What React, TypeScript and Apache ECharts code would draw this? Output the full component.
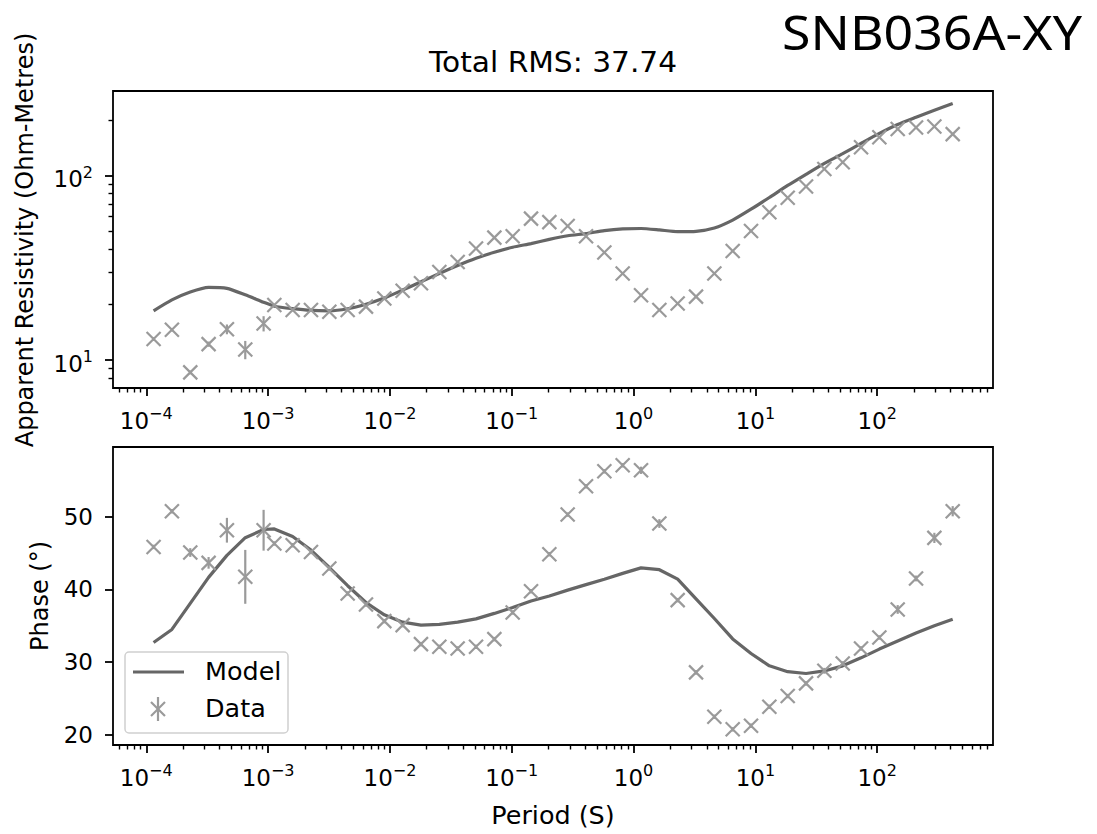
import React, { useEffect, useRef } from "react";
import * as echarts from "echarts";

// Periods (s)
const periods = [
  1.148e-4, 1.623e-4, 2.296e-4, 3.247e-4, 4.592e-4, 6.494e-4, 9.184e-4,
  1.125e-3, 1.59e-3, 2.249e-3, 3.181e-3, 4.498e-3, 6.362e-3, 8.997e-3,
  1.272e-2, 1.799e-2, 2.545e-2, 3.599e-2, 5.09e-2, 7.198e-2,
  0.1018, 0.144, 0.2036, 0.2879, 0.4072, 0.5758, 0.8144,
  1.152, 1.629, 2.303, 3.257, 4.607, 6.515, 9.213,
  13.03, 18.43, 26.06, 36.85, 52.12, 73.7,
  104.2, 147.4, 208.5, 294.8, 416.9,
];

// Apparent resistivity data (Ohm-m) and errors
const rhoData = [
  13.0, 14.6, 8.57, 12.2, 14.7, 11.4, 15.8, 19.9, 18.7, 18.7, 18.3, 18.7, 19.5,
  21.6, 23.8, 26.1, 30.1, 34.1, 40.3, 46.2, 47.0, 58.6, 56.1, 53.5, 47.0, 38.4,
  29.5, 22.5, 18.7, 20.3, 22.1, 29.5, 39.1, 50.2, 63.5, 76.0, 87.5, 109, 118.5,
  143, 162, 179.6, 183, 185.5, 168.5,
];
const rhoErr = [
  0.3, 0.3, 0.2, 0.4, 0.9, 1.3, 1.5, 0.3, 0.3, 0.3, 0.3, 0.3, 0.3,
  0.3, 0.3, 0.3, 0.4, 0.4, 0.5, 0.5, 0.5, 0.6, 0.6, 0.6, 0.5, 0.4,
  0.3, 0.3, 0.2, 0.3, 0.3, 0.4, 0.5, 0.6, 0.8, 0.9, 1.0, 1.2, 1.3,
  1.5, 1.8, 2.0, 2.2, 2.5, 2.5,
];
// Model resistivity (Ohm-m)
const rhoModel = [
  18.5, 21.2, 23.4, 24.8, 24.5, 22.6, 20.6, 19.6, 19.0, 18.6, 18.5, 19.0, 20.1,
  21.7, 24.0, 26.6, 29.5, 32.6, 35.7, 38.5, 41.0, 42.9, 45.2, 47.3, 48.6, 50.4,
  51.5, 51.8, 50.9, 49.8, 50.0, 52.1, 57.5, 65.9, 76.3, 88.7, 102, 117, 132,
  150, 170, 190, 208, 227, 247,
];

// Phase data (degrees) and errors
const phaseData = [
  45.83, 50.73, 45.06, 43.64, 48.12, 41.72, 48.12, 46.3, 46.06, 45.14, 42.87,
  39.44, 37.93, 35.64, 35.09, 32.48, 32.11, 31.89, 32.11, 33.17, 36.83, 39.75,
  44.83, 50.27, 54.16, 56.21, 57.04, 56.35, 49.04, 38.52, 28.6, 22.51, 20.78,
  21.28, 23.88, 25.35, 27.09, 28.82, 29.83, 31.89, 33.4, 37.24, 41.5, 47.07, 50.73,
];
const phaseErr = [
  0.3, 0.3, 0.6, 0.8, 1.7, 3.7, 2.8, 0.3, 0.3, 0.3, 0.3,
  0.3, 0.3, 0.3, 0.3, 0.3, 0.3, 0.3, 0.3, 0.3, 0.3, 0.3,
  0.3, 0.3, 0.3, 0.3, 0.3, 0.5, 0.6, 0.3, 0.3, 0.3, 0.3,
  0.3, 0.3, 0.3, 0.3, 0.4, 0.3, 0.3, 0.3, 0.6, 0.4, 0.7, 0.7,
];
// Model phase (degrees)
const phaseModel = [
  32.7, 34.5, 38.07, 41.65, 44.67, 47.1, 48.22, 48.3, 47.25, 45.4, 43.0,
  40.5, 38.2, 36.5, 35.5, 35.1, 35.2, 35.5, 35.95, 36.7, 37.5, 38.4,
  39.1, 39.9, 40.65, 41.4, 42.2, 42.95, 42.7, 41.4, 38.7, 36.0, 33.2,
  31.2, 29.5, 28.7, 28.45, 28.8, 29.5, 30.6, 31.8, 32.9, 34.0, 35.0, 35.9,
];

// Tick values
const xMajorTicks = [1e-4, 1e-3, 1e-2, 1e-1, 1, 10, 100];
const rhoMajorTicks = [10, 100];
const phaseTicks = [20, 30, 40, 50];

const titleText = "Total RMS: 37.74";
const stationText = "SNB036A-XY";
const rhoLabel = "Apparent Resistivity (Ohm-Metres)";
const phaseLabel = "Phase (°)";
const xLabel = "Period (S)";

const FONT = "'DejaVu Sans', sans-serif";
const MODEL_COLOR = "#666666";
const DATA_COLOR = "#9a9a9a";

function minorLogTicks(lo: number, hi: number) {
  const out: number[] = [];
  for (let e = -6; e <= 4; e++) {
    for (let m = 2; m <= 9; m++) {
      const v = m * Math.pow(10, e);
      if (v >= lo && v <= hi) out.push(v);
    }
  }
  return out;
}

const X_MIN = 5.33e-5;
const X_MAX = 893;
const R_MIN = 7.05;
const R_MAX = 289;
const P_MIN = 18.63;
const P_MAX = 59.55;

function powLabel(v: number) {
  const e = Math.round(Math.log10(v));
  const s = e < 0 ? "\u2212" + Math.abs(e) : String(e);
  return "{b|10}{s|" + s + "}";
}

export default function App() {
  const ref = useRef<HTMLDivElement>(null);

  useEffect(() => {
    if (!ref.current) return;
    const chart = echarts.init(ref.current, null, { renderer: "svg" });

    const tickLine = { color: "#000", width: 1.8 };
    const xRich = {
      b: { fontSize: 23, lineHeight: 32, fontFamily: FONT, color: "#000" },
      s: { fontSize: 16, lineHeight: 16, verticalAlign: "top", fontFamily: FONT, color: "#000" },
    };
    const yRich = {
      b: { fontSize: 23, lineHeight: 30, fontFamily: FONT, color: "#000" },
      s: { fontSize: 16, lineHeight: 16, verticalAlign: "top", fontFamily: FONT, color: "#000" },
    };
    const xMinor = minorLogTicks(X_MIN, X_MAX);
    const rMinor = minorLogTicks(R_MIN, R_MAX);

    const xMajorAxis = (gridIndex: number) => ({
      type: "log",
      gridIndex,
      min: X_MIN,
      max: X_MAX,
      position: "bottom",
      axisLine: { show: false, onZero: false },
      axisTick: { show: true, inside: false, length: 8, lineStyle: tickLine, customValues: xMajorTicks },
      axisLabel: {
        show: true,
        customValues: xMajorTicks,
        margin: 17,
        color: "#000",
        formatter: (v: number) => powLabel(v),
        rich: xRich,
      },
      splitLine: { show: false },
      minorTick: { show: false },
    });
    const xMinorAxis = (gridIndex: number) => ({
      type: "log",
      gridIndex,
      min: X_MIN,
      max: X_MAX,
      position: "bottom",
      axisLine: { show: false, onZero: false },
      axisTick: { show: true, inside: false, length: 4.5, lineStyle: { color: "#000", width: 1.4 }, customValues: xMinor },
      axisLabel: { show: false },
      splitLine: { show: false },
    });

    const makeData = (vals: number[], errs: number[]) =>
      periods.map((p, i) => [p, vals[i], errs[i]]);

    const renderErr = (params: any, api: any) => {
      const x = api.value(0);
      const y = api.value(1);
      const e = api.value(2);
      const c = api.coord([x, y]);
      const lo = api.coord([x, y - e]);
      const hi = api.coord([x, y + e]);
      const s = 7;
      const st = { stroke: DATA_COLOR, lineWidth: 2.2, fill: null };
      return {
        type: "group",
        children: [
          { type: "line", shape: { x1: lo[0], y1: lo[1], x2: hi[0], y2: hi[1] }, style: st },
          { type: "line", shape: { x1: c[0] - s, y1: c[1] - s, x2: c[0] + s, y2: c[1] + s }, style: st },
          { type: "line", shape: { x1: c[0] - s, y1: c[1] + s, x2: c[0] + s, y2: c[1] - s }, style: st },
        ],
      };
    };

    const option: any = {
      animation: false,
      backgroundColor: "#fff",
      textStyle: { fontFamily: FONT },
      grid: [
        { left: 113, top: 91, width: 880, height: 297, show: true, borderColor: "#000", borderWidth: 1.8, backgroundColor: "transparent" },
        { left: 113, top: 447, width: 880, height: 298, show: true, borderColor: "#000", borderWidth: 1.8, backgroundColor: "transparent" },
      ],
      xAxis: [xMajorAxis(0), xMinorAxis(0), xMajorAxis(1), xMinorAxis(1)],
      yAxis: [
        {
          type: "log",
          gridIndex: 0,
          min: R_MIN,
          max: R_MAX,
          position: "left",
          axisLine: { show: false, onZero: false },
          axisTick: { show: true, inside: false, length: 8, lineStyle: tickLine, customValues: rhoMajorTicks },
          axisLabel: {
            customValues: rhoMajorTicks,
            margin: 20,
            color: "#000",
            padding: [7, 0, 0, 0],
            formatter: (v: number) => powLabel(v),
            rich: yRich,
          },
          splitLine: { show: false },
        },
        {
          type: "log",
          gridIndex: 0,
          min: R_MIN,
          max: R_MAX,
          position: "left",
          axisLine: { show: false, onZero: false },
          axisTick: { show: true, inside: false, length: 4.5, lineStyle: { color: "#000", width: 1.4 }, customValues: rMinor },
          axisLabel: { show: false },
          splitLine: { show: false },
        },
        {
          type: "value",
          gridIndex: 1,
          min: P_MIN,
          max: P_MAX,
          position: "left",
          axisLine: { show: false, onZero: false },
          axisTick: { show: true, inside: false, length: 8, lineStyle: tickLine, customValues: phaseTicks },
          axisLabel: {
            customValues: phaseTicks,
            margin: 20,
            color: "#000",
            fontSize: 23,
            fontFamily: FONT,
          },
          splitLine: { show: false },
        },
      ],
      series: [
        {
          name: "Model",
          type: "line",
          xAxisIndex: 0,
          yAxisIndex: 0,
          data: periods.map((p, i) => [p, rhoModel[i]]),
          showSymbol: false,
          smooth: 0.2,
          lineStyle: { color: MODEL_COLOR, width: 3.2 },
          z: 2,
        },
        {
          name: "Data",
          type: "custom",
          xAxisIndex: 0,
          yAxisIndex: 0,
          data: makeData(rhoData, rhoErr),
          encode: { x: 0, y: 1 },
          renderItem: renderErr,
          z: 3,
        },
        {
          name: "Model",
          type: "line",
          xAxisIndex: 2,
          yAxisIndex: 2,
          data: periods.map((p, i) => [p, phaseModel[i]]),
          showSymbol: false,
          lineStyle: { color: MODEL_COLOR, width: 3.2 },
          z: 2,
        },
        {
          name: "Data",
          type: "custom",
          xAxisIndex: 2,
          yAxisIndex: 2,
          data: makeData(phaseData, phaseErr),
          encode: { x: 0, y: 1 },
          renderItem: renderErr,
          z: 3,
        },
      ],
      graphic: [
        {
          type: "text", x: 553, y: 62, scaleX: 1.06, z: 10,
          style: { text: titleText, font: "28px " + FONT, fill: "#000", textAlign: "center", textVerticalAlign: "middle" },
        },
        {
          type: "text", x: 1082, y: 32, scaleX: 1.08, z: 10,
          style: { text: stationText, font: "48px 'Noto Sans', 'Open Sans', sans-serif", fill: "#000", textAlign: "right", textVerticalAlign: "middle" },
        },
        {
          type: "text", x: 25, y: 240, rotation: Math.PI / 2, z: 10,
          style: { text: rhoLabel, font: "24px " + FONT, fill: "#000", textAlign: "center", textVerticalAlign: "middle" },
        },
        {
          type: "text", x: 40, y: 596, rotation: Math.PI / 2, z: 10,
          style: { text: phaseLabel, font: "24px " + FONT, fill: "#000", textAlign: "center", textVerticalAlign: "middle" },
        },
        {
          type: "text", x: 553, y: 816, scaleX: 1.06, z: 10,
          style: { text: xLabel, font: "24px " + FONT, fill: "#000", textAlign: "center", textVerticalAlign: "middle" },
        },
        // Legend
        {
          type: "rect", z: 20,
          shape: { x: 125, y: 652, width: 163, height: 81, r: 4 },
          style: { fill: "rgba(255,255,255,0.8)", stroke: "#d0d0d0", lineWidth: 1.5 },
        },
        {
          type: "line", z: 21,
          shape: { x1: 133, y1: 672, x2: 184, y2: 672 },
          style: { stroke: MODEL_COLOR, lineWidth: 3.2 },
        },
        {
          type: "text", x: 205, y: 672, scaleX: 1.06, z: 21,
          style: { text: "Model", font: "24px " + FONT, fill: "#000", textAlign: "left", textVerticalAlign: "middle" },
        },
        {
          type: "line", z: 21,
          shape: { x1: 158, y1: 697, x2: 158, y2: 721 },
          style: { stroke: DATA_COLOR, lineWidth: 2.2 },
        },
        {
          type: "line", z: 21,
          shape: { x1: 151, y1: 702, x2: 165, y2: 716 },
          style: { stroke: DATA_COLOR, lineWidth: 2.2 },
        },
        {
          type: "line", z: 21,
          shape: { x1: 151, y1: 716, x2: 165, y2: 702 },
          style: { stroke: DATA_COLOR, lineWidth: 2.2 },
        },
        {
          type: "text", x: 205, y: 709, scaleX: 1.06, z: 21,
          style: { text: "Data", font: "24px " + FONT, fill: "#000", textAlign: "left", textVerticalAlign: "middle" },
        },
      ],
    };

    chart.setOption(option);
    return () => chart.dispose();
  }, []);

  return (
    <div
      ref={ref}
      style={{ position: "absolute", left: 0, top: 0, width: 1097, height: 834, background: "#fff" }}
    />
  );
}
